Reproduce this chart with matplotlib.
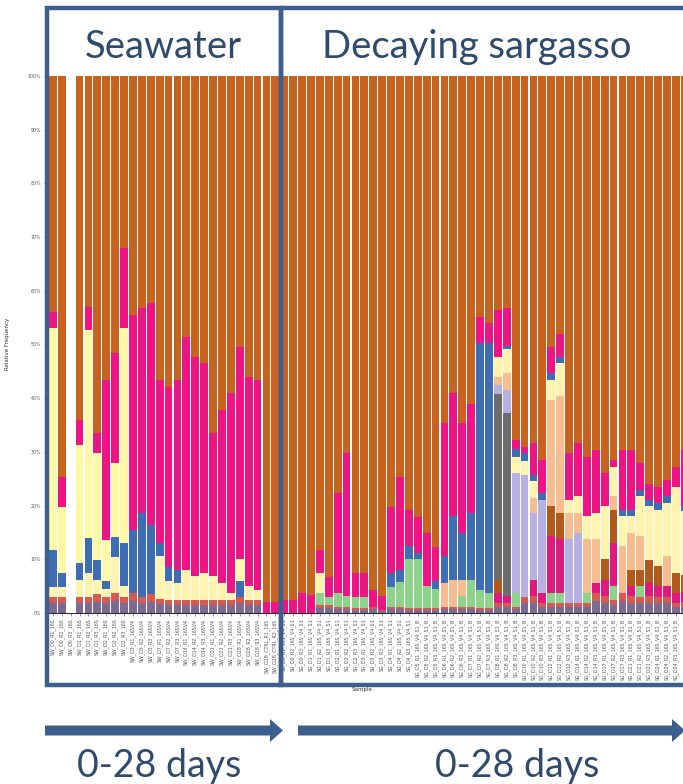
import matplotlib
matplotlib.use("Agg")
import matplotlib.pyplot as plt
from matplotlib.patches import Rectangle, Polygon
import numpy as np

plt.rcParams['font.family'] = ['DejaVu Sans']

# ---------------- data (relative frequency, %) ----------------
sw_labels = ["SW_D0_R1_16S", "SW_D0_R2_16S", "SW_D0_R3_16S", "SW_D1_R1_16S",
             "SW_D1_R2_16S", "SW_D1_R3_16S", "SW_D2_R1_16S", "SW_D2_R2_16S",
             "SW_D2_R3_16S",
             "SW_D3_R1_16SV4", "SW_D3_R2_16SV4", "SW_D3_R3_16SV4", "SW_D7_R1_16SV4",
             "SW_D7_R2_16SV4", "SW_D7_R3_16SV4", "SW_D14_R1_16SV4", "SW_D14_R2_16SV4",
             "SW_D14_R3_16SV4", "SW_D21_R1_16SV4", "SW_D21_R2_16SV4", "SW_D21_R3_16SV4",
             "SW_D28_R1_16SV4", "SW_D28_R2_16SV4", "SW_D28_R3_16SV4",
             "SW_D28_CTRL_R1_16S", "SW_D28_CTRL_R2_16S"]
sg_labels = ["SG_D0_R1_16S_V4_S1", "SG_D0_R2_16S_V4_S1", "SG_D0_R3_16S_V4_S1",
             "SG_D1_R1_16S_V4_S1", "SG_D1_R2_16S_V4_S1", "SG_D1_R3_16S_V4_S1",
             "SG_D2_R1_16S_V4_S1", "SG_D2_R2_16S_V4_S1", "SG_D2_R3_16S_V4_S1",
             "SG_D3_R1_16S_V4_S1", "SG_D3_R2_16S_V4_S1", "SG_D3_R3_16S_V4_S1",
             "SG_D4_R1_16S_V4_S1", "SG_D4_R2_16S_V4_S1", "SG_D4_R3_16S_V4_S1",
             "SG_D5_R1_16S_V4_S1_B", "SG_D5_R2_16S_V4_S1_B", "SG_D5_R3_16S_V4_S1_B",
             "SG_D6_R1_16S_V4_S1_B", "SG_D6_R2_16S_V4_S1_B", "SG_D6_R3_16S_V4_S1_B",
             "SG_D7_R1_16S_V4_S1_B", "SG_D7_R2_16S_V4_S1_B", "SG_D7_R3_16S_V4_S1_B",
             "SG_D8_R1_16S_V4_S1_B", "SG_D8_R2_16S_V4_S1_B", "SG_D8_R3_16S_V4_S1_B",
             "SG_D10_R1_16S_V4_S1_B", "SG_D10_R2_16S_V4_S1_B", "SG_D10_R3_16S_V4_S1_B",
             "SG_D12_R1_16S_V4_S1_B", "SG_D12_R2_16S_V4_S1_B", "SG_D12_R3_16S_V4_S1_B",
             "SG_D14_R1_16S_V4_S1_B", "SG_D14_R2_16S_V4_S1_B", "SG_D14_R3_16S_V4_S1_B",
             "SG_D17_R1_16S_V4_S1_B", "SG_D17_R2_16S_V4_S1_B", "SG_D17_R3_16S_V4_S1_B",
             "SG_D21_R1_16S_V4_S1_B", "SG_D21_R2_16S_V4_S1_B", "SG_D21_R3_16S_V4_S1_B",
             "SG_D24_R1_16S_V4_S1_B", "SG_D24_R2_16S_V4_S1_B", "SG_D24_R3_16S_V4_S1_B",
             "SG_D28_R1_16S_V4_S1_B"]
sample_labels = sw_labels + sg_labels

ytick_values = [0, 0.1, 0.2, 0.3, 0.4, 0.5, 0.6, 0.7, 0.8, 0.9, 1.0]
ytick_labels = ["0%", "10%", "20%", "30%", "40%", "50%", "60%", "70%", "80%", "90%", "100%"]

mdark = [1.8, 1.8, 0, 1.8, 1.8, 2.1, 1.8, 2.2, 1.8, 2.2,
         1.8, 2.1, 1.6, 1.5, 1.5, 1.5, 1.5, 1.5, 1.5, 1.5,
         1.5, 1.8, 1.5, 1.5, 0, 0, 0, 0, 0, 0,
         0.9, 0.9, 0.7, 0.7, 0.6, 0.6, 0.7, 0.3, 0.7, 0.7,
         0.6, 0.6, 0.6, 0.6, 0.7, 0.7, 0.7, 0.7, 0.6, 0.6,
         1.1, 1.1, 0.7, 1.8, 1.9, 1.1, 1.1, 1.1, 1.1, 1.1,
         1.1, 2.2, 1.9, 1.5, 2.2, 1.9, 1.8, 1.9, 1.8, 1.8,
         1.1, 1.2]
mred = [1.2, 1.2, 0, 1.2, 1.2, 1.4, 1.2, 1.5, 1.2, 1.5,
        1.2, 1.4, 1.0, 1.0, 1.0, 1.0, 1.0, 1.0, 1.0, 1.0,
        1.0, 1.2, 1.0, 1.0, 0, 0, 0, 0, 0, 0,
        0.6, 0.6, 0.5, 0.5, 0.4, 0.4, 0.5, 0.2, 0.5, 0.5,
        0.4, 0.4, 0.4, 0.4, 0.5, 0.5, 0.5, 0.5, 0.4, 0.4,
        0.8, 0.8, 0.5, 1.2, 1.2, 0.8, 0.8, 0.8, 0.8, 0.8,
        0.8, 1.5, 1.2, 1.0, 1.5, 1.2, 1.2, 1.2, 1.2, 1.2,
        0.8, 0.8]
green = [0, 0, 0, 0, 0, 0, 0, 0, 0, 0,
         0, 0, 0, 0, 0, 0, 0, 0, 0, 0,
         0, 0, 0, 0, 0, 0, 0, 0, 0, 0,
         2.2, 1.5, 2.5, 1.9, 2.0, 2.0, 0, 0, 3.6, 4.5,
         9.0, 9.0, 4.0, 3.5, 0, 0, 2.0, 5.0, 3.2, 2.7,
         0, 0, 2.5, 0, 0, 0, 1.8, 1.8, 0, 0,
         1.8, 0, 0, 2.5, 0, 0, 2.0, 0, 0, 0,
         0, 0]
pink2 = [0, 0, 0, 0, 0, 0, 0, 0, 0, 0,
         0, 0, 0, 0, 0, 0, 0, 0, 0, 0,
         0, 0, 0, 0, 0, 0, 0, 0, 0, 0,
         0, 0, 0, 0, 0, 0, 0, 0, 0, 0,
         0, 0, 0, 0, 0, 0, 0, 0, 0, 0,
         1.8, 1.2, 0, 0, 3.1, 1.8, 10.6, 10.0, 0, 0,
         0, 1.9, 3.1, 8.0, 0, 1.9, 0, 2.5, 2.0, 2.0,
         1.8, 2.0]
brown = [0, 0, 0, 0, 0, 0, 0, 0, 0, 0,
         0, 0, 0, 0, 0, 0, 0, 0, 0, 0,
         0, 0, 0, 0, 0, 0, 0, 0, 0, 0,
         0, 0, 0, 0, 0, 0, 0, 0, 0, 0,
         0, 0, 0, 0, 0, 0, 0, 0, 0, 0,
         2.4, 0, 0, 0, 0, 0, 5.6, 4.9, 0, 0,
         0, 0, 3.8, 6.2, 0, 3.1, 3.0, 4.3, 3.7, 0,
         3.7, 3.0]
gray = [0, 0, 0, 0, 0, 0, 0, 0, 0, 0,
        0, 0, 0, 0, 0, 0, 0, 0, 0, 0,
        0, 0, 0, 0, 0, 0, 0, 0, 0, 0,
        0, 0, 0, 0, 0, 0, 0, 0, 0, 0,
        0, 0, 0, 0, 0, 0, 0, 0, 0, 0,
        34.7, 34.1, 0, 0, 0, 0, 0, 0, 0, 0,
        0, 0, 0, 0, 0, 0, 0, 0, 0, 0,
        0, 0]
lavender = [0, 0, 0, 0, 0, 0, 0, 0, 0, 0,
            0, 0, 0, 0, 0, 0, 0, 0, 0, 0,
            0, 0, 0, 0, 0, 0, 0, 0, 0, 0,
            0, 0, 0, 0, 0, 0, 0, 0, 0, 0,
            0, 0, 0, 0, 0, 0, 0, 0, 0, 0,
            1.6, 4.4, 22.3, 22.7, 12.4, 17.3, 0, 0, 11.8, 13.0,
            0, 0, 0, 0, 0, 0, 0, 0, 0, 0,
            0, 0]
peach = [0, 0, 0, 0, 0, 0, 0, 0, 0, 0,
         0, 0, 0, 0, 0, 0, 0, 0, 0, 0,
         0, 0, 0, 0, 0, 0, 0, 0, 0, 0,
         0, 0, 0, 0, 0, 0, 0, 0, 0, 0,
         0, 0, 0, 0, 4.4, 5.0, 3.0, 0, 0, 0,
         1.6, 3.1, 0, 0, 2.8, 0, 19.8, 21.8, 4.9, 3.7,
         10.0, 8.1, 0, 2.5, 8.7, 6.8, 6.3, 0, 0, 5.6,
         0, 0]
yellow_low = [1.8, 1.8, 0, 3.1, 4.4, 2.6, 1.5, 6.7, 2.0, 0,
              0, 0, 8.0, 3.5, 3.1, 5.5, 4.3, 4.9, 4.3, 3.1,
              1.2, 0, 2.5, 1.8, 0, 0, 0, 0, 0, 0,
              3.7, 0, 0, 0, 0, 0, 0, 0, 0, 0,
              0, 0, 0, 0, 0, 0, 0, 0, 0, 0,
              3.7, 4.5, 3.1, 2.6, 3.1, 0, 3.7, 6.1, 2.5, 3.1,
              4.3, 4.9, 9.9, 5.5, 5.6, 3.1, 7.4, 10.0, 10.5, 9.9,
              16.1, 12.0]
blue = [7.0, 2.6, 0, 3.2, 6.6, 3.8, 1.5, 3.8, 8.0, 11.8,
        15.6, 12.9, 2.4, 2.6, 2.4, 0, 0, 0, 0, 0,
        0, 3.0, 0, 0, 0, 0, 0, 0, 0, 0,
        0, 0, 0, 0, 0, 0, 0, 0, 2.6, 2.3,
        2.4, 1.1, 0, 1.5, 5.0, 11.8, 8.7, 12.4, 46.1, 46.6,
        0, 0.5, 1.5, 1.5, 1.2, 1.3, 1.3, 1.2, 0, 0,
        0, 0, 0, 0, 1.2, 1.2, 1.2, 1.2, 1.3, 1.2,
        0, 1.0]
yellow_high = [41.3, 12.3, 0, 22.0, 38.7, 19.9, 7.6, 13.7, 40.0, 0,
               0, 0, 0, 0, 0, 0, 0, 0, 0, 0,
               0, 4.0, 0, 0, 0, 0, 0, 0, 0, 0,
               0, 0, 0, 0, 0, 0, 0, 0, 0, 0,
               0, 0, 0, 0, 0, 0, 0, 0, 0, 0,
               0, 0, 0, 0, 0, 0, 0, 0, 0, 0,
               0, 0, 0, 0, 0, 0, 0, 0, 0, 0,
               0, 0]
pink = [2.9, 5.6, 0, 4.7, 4.3, 3.7, 29.8, 20.5, 15.0, 40.0,
        38.2, 41.3, 30.4, 33.4, 35.4, 43.4, 40.9, 39.1, 26.7, 32.2,
        37.3, 39.5, 39.0, 39.1, 2.0, 2.0, 2.4, 2.4, 3.7, 3.4,
        4.3, 3.7, 18.6, 26.7, 4.4, 4.4, 3.1, 2.6, 12.3, 17.3,
        6.8, 6.8, 9.9, 6.3, 24.8, 23.0, 20.5, 20.4, 4.8, 3.7,
        8.7, 7.1, 1.6, 1.2, 5.9, 6.2, 4.8, 4.3, 8.7, 9.9,
        11.1, 11.8, 6.1, 1.3, 11.2, 11.2, 5.0, 3.0, 3.0, 3.1,
        3.7, 10.4]
orange = [44.0, 74.7, 0, 64.0, 43.0, 66.5, 56.6, 51.6, 32.0, 44.5,
          43.2, 42.3, 56.6, 58.0, 56.6, 48.6, 52.3, 53.5, 66.5, 62.2,
          59.0, 50.5, 56.0, 56.6, 98.0, 98.0, 97.6, 97.6, 96.3, 96.6,
          88.3, 93.3, 77.7, 70.2, 92.6, 92.6, 95.7, 96.9, 80.3, 74.7,
          80.8, 82.1, 85.1, 87.7, 64.6, 59.0, 64.6, 61.0, 44.9, 46.0,
          43.6, 43.2, 67.8, 69.0, 68.4, 71.5, 50.5, 48.0, 70.2, 68.4,
          70.9, 69.6, 74.0, 71.5, 69.6, 69.6, 72.1, 75.9, 76.5, 75.2,
          72.8, 69.6]

# stacking order bottom -> top, with colours
series = [
    (mdark, '#7B6A92'),
    (mred, '#D65A50'),
    (green, '#8ED38C'),
    (pink2, '#E2187F'),
    (brown, '#B25A1C'),
    (gray, '#6C6C6C'),
    (lavender, '#B6B1E2'),
    (peach, '#F6BE90'),
    (yellow_low, '#FFF3B0'),
    (blue, '#3F6DB4'),
    (yellow_high, '#FFF8A6'),
    (pink, '#EF1483'),
    (orange, '#C7631F'),
]

# ---------------- figure ----------------
W, H = 683, 784
fig = plt.figure(figsize=(W / 100, H / 100), dpi=100)
fig.patch.set_facecolor('white')

pitch = 8.9          # px per bar slot
left_px = 47
ax = fig.add_axes([left_px / W, (H - 613) / H, (W - left_px) / W, (613 - 76) / H])
xpos = np.arange(len(sample_labels))
bottom = np.zeros(len(sample_labels))
for vals, col in series:
    v = np.array(vals, dtype=float) / 100.0
    ax.bar(xpos, v, bottom=bottom, width=0.88, color=col, linewidth=0)
    bottom += v

x0 = -0.66
x1 = x0 + (W - left_px) / pitch
ax.set_xlim(x0, x1)
ax.set_ylim(0, 1)
ax.set_yticks(ytick_values)
ax.set_yticklabels(ytick_labels, fontsize=3.4, color='#555555')
# only the samples whose tick falls inside the visible (cropped) panel get a label
vis = [i for i in xpos if i + 0.35 < x1]
ax.set_xticks(vis)
ax.set_xticklabels([sample_labels[i] for i in vis], rotation=90, fontsize=3.4,
                   color='#555555', ha='center', va='top')
ax.tick_params(axis='both', length=2.5, width=0.4, color='#444444', pad=1.5)
for s in ['top', 'right', 'left']:
    ax.spines[s].set_visible(False)
ax.spines['bottom'].set_linewidth(0.7)
ax.spines['bottom'].set_color('#222222')

fig.text(8 / W, 1 - 344 / H, "Relative Frequency", rotation=90, fontsize=4,
         color='#333333', ha='center', va='center')
fig.text(362 / W, 1 - 690 / H, "Sample", fontsize=4, color='#333333',
         ha='center', va='center')

# ---------------- overlay annotations (pixel coordinates) ----------------
ov = fig.add_axes([0, 0, 1, 1])
ov.set_xlim(0, W)
ov.set_ylim(H, 0)
ov.axis('off')
ov.patch.set_alpha(0)

box_col = '#3C5F8D'
ov.add_patch(Rectangle((47, 8), 281 - 47, 685 - 8, fill=False, lw=3.2, ec=box_col))
ov.add_patch(Rectangle((281, 8), 760 - 281, 685 - 8, fill=False, lw=3.2, ec=box_col))

arrow_col = '#3C5F8D'
ov.add_patch(Polygon([(45, 725.5), (270, 725.5), (270, 719), (283, 730.5),
                      (270, 742), (270, 735.5), (45, 735.5)],
                     closed=True, fc=arrow_col, ec='none'))
ov.add_patch(Polygon([(298, 725.5), (672, 725.5), (672, 719), (685, 730.5),
                      (672, 742), (672, 735.5), (298, 735.5)],
                     closed=True, fc=arrow_col, ec='none'))

txt_col = '#2E4A6C'
ov.text(163, 58, "Seawater", ha='center', va='baseline', fontsize=27.5,
        family='Lato', color=txt_col)
ov.text(477, 58, "Decaying sargasso", ha='center', va='baseline', fontsize=27.5,
        family='Lato', color=txt_col)
ov.text(159, 777, "0-28 days", ha='center', va='baseline', fontsize=27,
        family='Lato', color=txt_col)
ov.text(517, 777, "0-28 days", ha='center', va='baseline', fontsize=27,
        family='Lato', color=txt_col)

fig.savefig("out.png", dpi=100)
